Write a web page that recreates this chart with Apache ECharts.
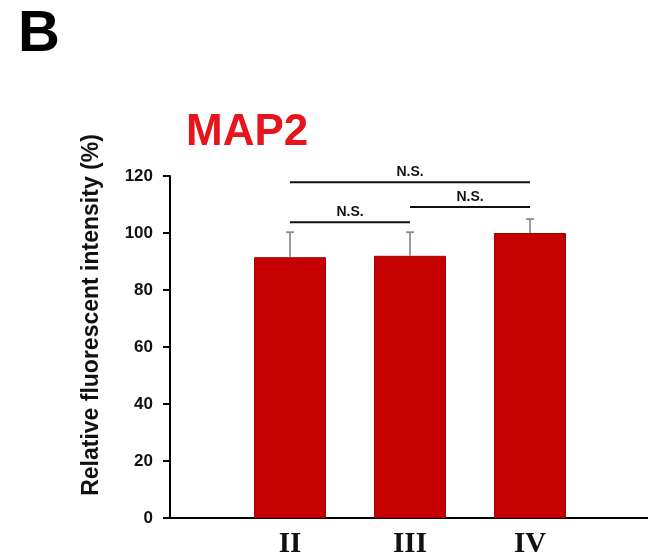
<!DOCTYPE html>
<html>
<head>
<meta charset="utf-8">
<script src="https://cdn.jsdelivr.net/npm/echarts@6/dist/echarts.min.js"></script>
<style>
  html, body { margin: 0; padding: 0; background: #fff; }
  #chart { width: 648px; height: 559px; }
</style>
</head>
<body>
<div id="chart"></div>
<script>
// Groups on the x axis
const categories = ['II', 'III', 'IV'];
// Mean relative fluorescent intensity (%) per group
const meanValues = [91.5, 92, 100];
// Upper error (SD) per group
const errorValues = [8.8, 8.3, 4.9];
// Pairwise comparisons: [group index A, group index B, bracket height (%), label]
const comparisons = [
  [0, 2, 117.8, 'N.S.'],
  [0, 1, 103.8, 'N.S.'],
  [1, 2, 109.1, 'N.S.']
];
// Y axis ticks
const yTicks = { min: 0, max: 120, step: 20 };

const chart = echarts.init(document.getElementById('chart'), null, { renderer: 'canvas' });

const barData = meanValues.map((v, i) => [i + 1, v]);
const errData = meanValues.map((v, i) => [i + 1, v, errorValues[i]]);
const bracketData = comparisons.map(c => [c[0] + 1, c[1] + 1, c[2], c[3]]);

// plot area: 478 px wide, one group slot = 120 px
const plotLeft = 170, plotWidth = 478, slot = 120;

const option = {
  animation: false,
  backgroundColor: '#ffffff',
  graphic: [
    {
      type: 'text', left: 18, top: 6,
      style: { text: 'B', font: 'bold 58px "Liberation Sans", Arial, sans-serif', fill: '#000' }
    },
    {
      type: 'text', left: 186, top: 111,
      style: { text: 'MAP2', font: 'bold 44px "Liberation Sans", Arial, sans-serif', fill: '#e8141c' }
    },
    {
      type: 'text', x: 92, y: 315, rotation: Math.PI / 2,
      style: {
        text: 'Relative fluorescent intensity (%)',
        font: 'bold 23px "Liberation Sans", Arial, sans-serif',
        fill: '#111', align: 'center', verticalAlign: 'middle'
      }
    }
  ],
  grid: { left: plotLeft, top: 176, width: plotWidth, height: 344, containLabel: false },
  xAxis: {
    type: 'value', min: 0, max: plotWidth / slot, interval: 1,
    axisLine: { show: true, lineStyle: { color: '#000', width: 2 } },
    axisTick: { show: false },
    splitLine: { show: false },
    axisLabel: {
      margin: 12,
      color: '#111',
      fontFamily: '"Liberation Serif", "Times New Roman", serif',
      fontWeight: 'bold', fontSize: 29,
      showMaxLabel: false,
      formatter: v => categories[v - 1] || ''
    }
  },
  yAxis: {
    type: 'value', min: yTicks.min, max: yTicks.max, interval: yTicks.step,
    axisLine: { show: true, lineStyle: { color: '#000', width: 2 } },
    axisTick: { show: true, length: 7, lineStyle: { color: '#000', width: 2 } },
    splitLine: { show: false },
    axisLabel: {
      margin: 17, color: '#111',
      fontFamily: '"Liberation Sans", Arial, sans-serif',
      fontWeight: 'bold', fontSize: 17
    }
  },
  series: [
    {
      type: 'bar',
      data: barData,
      barWidth: 72,
      itemStyle: { color: '#c40000', borderColor: '#a80000', borderWidth: 1 },
      z: 2
    },
    {
      type: 'custom',
      data: errData,
      z: 3,
      renderItem: (params, api) => {
        const x = api.value(0), v = api.value(1), e = api.value(2);
        const base = api.coord([x, v]);
        const top = api.coord([x, v + e]);
        const half = 4;
        const st = { stroke: '#7a7a7a', lineWidth: 1.5 };
        return {
          type: 'group',
          children: [
            { type: 'line', shape: { x1: base[0], y1: base[1], x2: top[0], y2: top[1] }, style: st },
            { type: 'line', shape: { x1: top[0] - half, y1: top[1], x2: top[0] + half, y2: top[1] }, style: st }
          ]
        };
      }
    },
    {
      type: 'custom',
      data: bracketData,
      z: 4,
      renderItem: (params, api) => {
        const a = api.coord([api.value(0), api.value(2)]);
        const b = api.coord([api.value(1), api.value(2)]);
        const label = bracketData[params.dataIndex][3];
        return {
          type: 'group',
          children: [
            { type: 'line', shape: { x1: a[0], y1: a[1], x2: b[0], y2: b[1] },
              style: { stroke: '#111', lineWidth: 2 } },
            { type: 'text', x: (a[0] + b[0]) / 2, y: a[1] - 3,
              style: { text: label, font: 'bold 14px "Liberation Sans", Arial, sans-serif',
                       fill: '#111', align: 'center', verticalAlign: 'bottom' } }
          ]
        };
      }
    }
  ]
};

chart.setOption(option);
</script>
</body>
</html>
